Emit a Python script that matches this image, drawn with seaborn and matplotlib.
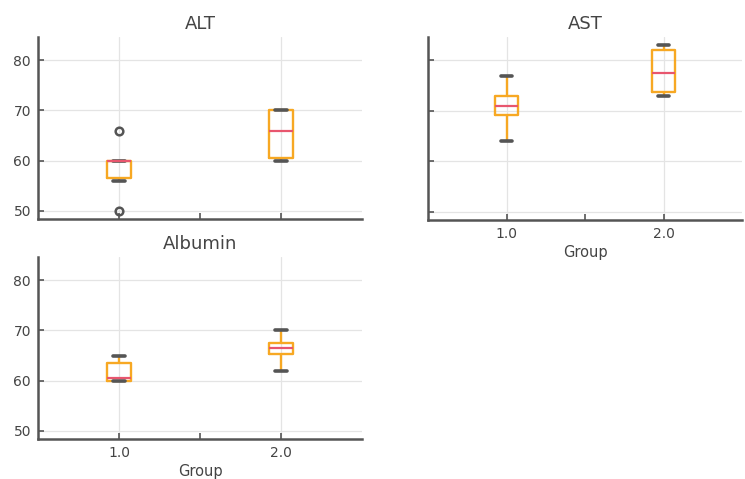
import matplotlib
matplotlib.use("Agg")
import matplotlib.pyplot as plt
import seaborn as sns
import pandas as pd
from matplotlib.ticker import FixedLocator

# ---- data (raw samples reproducing the box statistics) ----
groups = [1.0, 2.0]
alt_g1 = [50, 56, 57, 60, 60, 60, 66]
alt_g2 = [60, 60, 61, 66, 70, 70, 70]
ast_g1 = [64, 69, 69.5, 71, 72, 74, 77]
ast_g2 = [73, 73, 74, 77, 78, 82, 82, 83]
alb_g1 = [60, 60, 60, 60.5, 63, 64, 65]
alb_g2 = [62, 65, 65.5, 66.5, 67, 68, 70]
titles = ["ALT", "AST", "Albumin"]
y_ticks = [50, 60, 70, 80]
x_tick_labels = ["1.0", "2.0"]

def long(g1, g2):
    return pd.DataFrame({"Group": [groups[0]] * len(g1) + [groups[1]] * len(g2),
                         "value": g1 + g2})

frames = [long(alt_g1, alt_g2), long(ast_g1, ast_g2), long(alb_g1, alb_g2)]

sns.set_style("white")
plt.rcParams["font.family"] = ["DejaVu Sans"]

TXT = "#444444"
SPINE = "#555555"
ORANGE = "#F7A823"
RED = "#E8566E"

fig = plt.figure(figsize=(7.45, 4.79), dpi=100)
rects = [
    [38 / 745, 1 - 219 / 479, 324 / 745, 182 / 479],
    [428 / 745, 1 - 220 / 479, 314 / 745, 183 / 479],
    [38 / 745, 1 - 439 / 479, 324 / 745, 182 / 479],
]

for i, (rect, df, title) in enumerate(zip(rects, frames, titles)):
    ax = fig.add_axes(rect)
    sns.boxplot(data=df, x="Group", y="value", native_scale=True, ax=ax,
                width=0.15, fill=False, color=ORANGE, linewidth=1.7,
                boxprops=dict(color=ORANGE, linewidth=1.7),
                whiskerprops=dict(color=ORANGE, linewidth=1.7),
                capprops=dict(color=SPINE, linewidth=2.6),
                medianprops=dict(color=RED, linewidth=1.6),
                flierprops=dict(marker="o", markerfacecolor="none",
                                markeredgecolor=SPINE, markersize=5.5,
                                markeredgewidth=1.8))
    ax.set_xlim(0.5, 2.5)
    ax.set_ylim(48.35, 84.65)
    ax.xaxis.set_major_locator(FixedLocator(groups))
    ax.xaxis.set_minor_locator(FixedLocator([1.5]))
    ax.set_xticklabels(x_tick_labels)
    ax.set_yticks(y_ticks)
    ax.grid(True, color="#e4e4e4", linewidth=0.9)
    ax.set_axisbelow(True)
    for s in ["top", "right"]:
        ax.spines[s].set_visible(False)
    for s in ["left", "bottom"]:
        ax.spines[s].set_color(SPINE)
        ax.spines[s].set_linewidth(1.8)
    ax.tick_params(which="both", bottom=True, left=True, direction="in",
                   color=SPINE, length=4, width=1.2, pad=5,
                   labelcolor=TXT, labelsize=10)
    ax.set_title(title, color=TXT, fontsize=13, pad=6)
    ax.set_ylabel("")
    if i == 0:
        ax.set_xlabel("")
        ax.tick_params(labelbottom=False)
    else:
        ax.set_xlabel("Group", color=TXT, fontsize=10.5, labelpad=3)
    if i == 1:
        ax.tick_params(labelleft=False)

fig.savefig("out.png", dpi=100)
